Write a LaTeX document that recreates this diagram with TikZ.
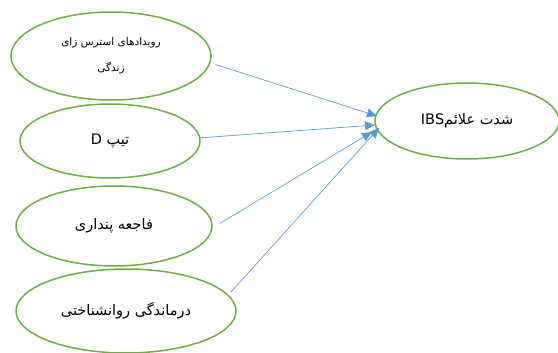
\documentclass[tikz,border=0pt]{standalone}
\usepackage{fontspec}
\usetikzlibrary{shapes.geometric,arrows.meta}
\newfontfamily\arabicfont[Script=Arabic]{DejaVu Sans}
\TeXXeTstate=1
\definecolor{egreen}{HTML}{70AD47}
\definecolor{ablue}{HTML}{5B9BD5}
\begin{document}
\begin{tikzpicture}[x=1pt,y=-1pt,
  oval/.style={ellipse,draw=egreen,line width=1.5pt,inner sep=0pt,
    font=\arabicfont\fontsize{14.5}{17}\selectfont},
  link/.style={draw=ablue,line width=0.7pt,-{Triangle[length=10pt,width=9pt]}}]
\useasboundingbox (0,0) rectangle (558,353);
\node[oval,minimum width=200pt,minimum height=88pt,align=center,
  font=\arabicfont\fontsize{10.5}{12.5}\selectfont] (e1) at (111,56)
  {\beginR رویدادهای استرس زای\endR\\[14pt]\beginR زندگی\endR};
\node[oval,minimum width=180pt,minimum height=74pt] (e2) at (110,141)
  {\beginR تیپ \beginL D\endL\endR};
\node[oval,minimum width=196pt,minimum height=80pt] (e3) at (114,226)
  {\beginR فاجعه پنداری\endR};
\node[oval,minimum width=220pt,minimum height=84pt] (e4) at (126,311)
  {\beginR درماندگی روانشناختی\endR};
\node[oval,minimum width=184pt,minimum height=76pt] (ibs) at (467,121)
  {\beginR شدت علائم\beginL IBS\endL\endR};
\coordinate (c1) at (377,116);
\coordinate (c2) at (375,125);
\coordinate (c3) at (372,132);
\coordinate (c4) at (379,128);
\draw[link,shorten <=5pt] (e1.-4) -- (c1);
\draw[link] (e2.2.5) -- (c2);
\draw[link,shorten <=8pt] (e3.-1) -- (c3);
\draw[link,shorten <=4pt] (e4.9) -- (c4);
\end{tikzpicture}
\end{document}
